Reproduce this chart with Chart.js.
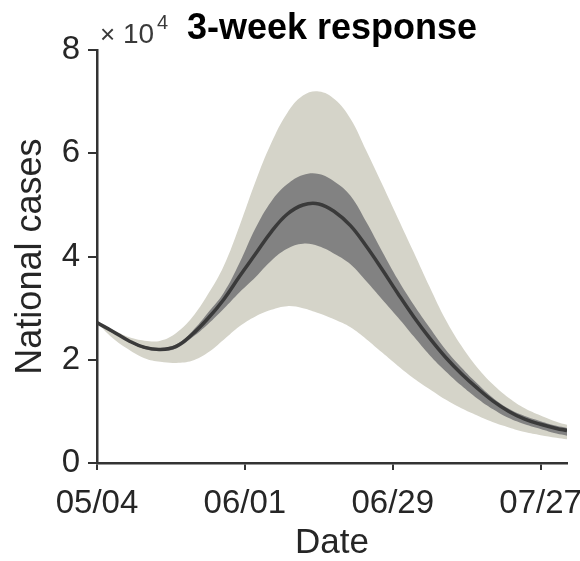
<!DOCTYPE html>
<html>
<head>
<meta charset="utf-8">
<title>3-week response</title>
<script src="https://cdn.jsdelivr.net/npm/chart.js@4.4.1/dist/chart.umd.min.js"></script>
<style>
  html, body { margin: 0; padding: 0; background: #fff; }
  #wrap { width: 580px; height: 561px; }
</style>
</head>
<body>
<div id="wrap"><canvas id="casesChart" width="580" height="561"></canvas></div>
<script>
// days since 05/04
const days = [0, 3, 6, 9, 12, 15, 18, 21, 24, 27, 30, 33, 36, 39, 42, 45,
  48, 51, 54, 57, 60, 63, 66, 69, 72, 75, 78, 81, 84, 87, 89];

// national cases, x10^4
const meanCases = [2.72, 2.55, 2.37, 2.24, 2.20, 2.26, 2.49, 2.80, 3.17, 3.62, 4.05, 4.48, 4.82, 5.00, 5.02, 4.87,
  4.60, 4.20, 3.75, 3.28, 2.83, 2.42, 2.05, 1.73, 1.45, 1.20, 1.00, 0.85, 0.75, 0.67, 0.63];
const innerUpper = [2.72, 2.56, 2.39, 2.27, 2.23, 2.30, 2.55, 2.91, 3.30, 3.88, 4.55, 5.07, 5.40, 5.58, 5.60, 5.45,
  5.18, 4.67, 4.10, 3.55, 3.06, 2.62, 2.20, 1.85, 1.54, 1.26, 1.05, 0.91, 0.81, 0.72, 0.68];
const innerLower = [2.72, 2.54, 2.35, 2.21, 2.17, 2.22, 2.43, 2.69, 2.99, 3.31, 3.60, 3.92, 4.15, 4.25, 4.20, 4.05,
  3.85, 3.52, 3.17, 2.82, 2.45, 2.09, 1.78, 1.50, 1.25, 1.04, 0.87, 0.75, 0.66, 0.57, 0.53];
const outerUpper = [2.72, 2.58, 2.44, 2.37, 2.37, 2.52, 2.82, 3.27, 3.82, 4.60, 5.45, 6.20, 6.78, 7.12, 7.20, 7.05,
  6.67, 6.05, 5.40, 4.74, 4.08, 3.41, 2.78, 2.27, 1.85, 1.52, 1.26, 1.06, 0.92, 0.80, 0.74];
const outerLower = [2.72, 2.42, 2.20, 2.03, 1.96, 1.94, 1.98, 2.14, 2.39, 2.65, 2.84, 2.97, 3.04, 3.00, 2.90, 2.78,
  2.63, 2.40, 2.14, 1.88, 1.64, 1.43, 1.23, 1.06, 0.92, 0.79, 0.69, 0.60, 0.54, 0.49, 0.46];

const tickDays = [0, 28, 56, 84];
const tickLabels = ['05/04', '06/01', '06/29', '07/27'];

const toPoints = vals => vals.map((v, i) => ({ x: days[i], y: v }));

Chart.defaults.font.family = "'Liberation Sans', Arial, sans-serif";
Chart.defaults.color = '#262626';

// the "x10^4" multiplier above the y axis
const exponentLabel = {
  id: 'exponentLabel',
  afterDraw(chart) {
    const ctx = chart.ctx;
    const left = chart.chartArea.left;
    ctx.save();
    ctx.fillStyle = '#3a3a3a';
    ctx.textAlign = 'left';
    ctx.textBaseline = 'alphabetic';
    ctx.font = "26px 'Liberation Sans', Arial, sans-serif";
    ctx.fillText('\u00d7', left + 3, 43);
    ctx.font = "28px 'Liberation Sans', Arial, sans-serif";
    ctx.fillText('10', left + 26, 43);
    ctx.font = "20px 'Liberation Sans', Arial, sans-serif";
    ctx.fillText('4', left + 60, 29);
    ctx.restore();
  }
};

const lineBase = { pointRadius: 0, borderWidth: 0, tension: 0.4 };

new Chart(document.getElementById('casesChart'), {
  type: 'line',
  data: {
    datasets: [
      { ...lineBase, label: 'outer lower', data: toPoints(outerLower), fill: false, order: 3 },
      { ...lineBase, label: 'outer upper', data: toPoints(outerUpper), fill: '-1',
        backgroundColor: '#d5d4c9', order: 3 },
      { ...lineBase, label: 'inner lower', data: toPoints(innerLower), fill: false, order: 2 },
      { ...lineBase, label: 'inner upper', data: toPoints(innerUpper), fill: '-1',
        backgroundColor: '#828282', order: 2 },
      { ...lineBase, label: 'mean', data: toPoints(meanCases), fill: false,
        borderColor: '#3a3a3a', borderWidth: 3.5, order: 1 }
    ]
  },
  options: {
    responsive: false,
    animation: false,
    devicePixelRatio: 1,
    layout: { padding: { left: 0, right: 13, top: 0, bottom: 0 } },
    plugins: {
      legend: { display: false },
      tooltip: { enabled: false },
      title: {
        display: true,
        text: '3-week response',
        fullSize: false,
        color: '#000',
        font: { size: 36, weight: 'bold' },
        padding: { top: 7, bottom: 0 }
      }
    },
    scales: {
      x: {
        type: 'linear',
        min: 0,
        max: 89,
        afterBuildTicks: s => { s.ticks = tickDays.map(v => ({ value: v })); },
        afterFit: s => { s.height = 98; s.paddingLeft = 0; s.paddingRight = 0; },
        ticks: {
          callback: v => tickLabels[tickDays.indexOf(v)],
          font: { size: 33 },
          color: '#262626',
          padding: 14,
          maxRotation: 0
        },
        grid: { drawOnChartArea: false, drawTicks: true, tickLength: 7, color: '#333', lineWidth: 2 },
        border: { display: true, color: '#333', width: 2.5 },
        title: {
          display: true,
          text: 'Date',
          font: { size: 35, lineHeight: 1 },
          color: '#262626',
          padding: { top: 0, bottom: 0 }
        }
      },
      y: {
        min: 0,
        max: 8,
        afterFit: s => { s.width = 97; s.paddingTop = 0; s.paddingBottom = 0; },
        ticks: { stepSize: 2, font: { size: 33 }, color: '#262626', padding: 8 },
        grid: { drawOnChartArea: false, drawTicks: true, tickLength: 9, color: '#333', lineWidth: 2 },
        border: { display: true, color: '#333', width: 2.5 },
        title: {
          display: true,
          text: 'National cases',
          font: { size: 36 },
          color: '#262626',
          padding: { top: 9, bottom: 0 }
        }
      }
    }
  },
  plugins: [exponentLabel]
});
</script>
</body>
</html>
